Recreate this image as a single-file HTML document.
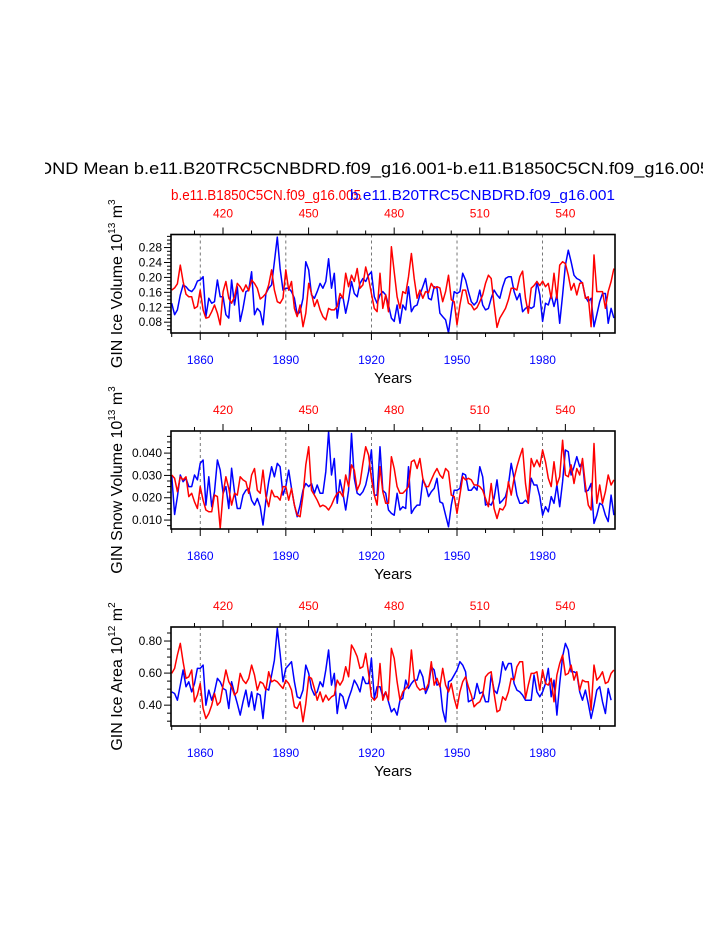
<!DOCTYPE html>
<html><head><meta charset="utf-8"><style>
html,body{margin:0;padding:0;background:#fff;}
svg{display:block;font-family:"Liberation Sans",Arial,sans-serif;}
</style></head><body>
<svg id="chart" width="723" height="935" viewBox="0 0 723 935" xmlns="http://www.w3.org/2000/svg">
<defs><clipPath id="tclip"><rect x="45" y="140" width="658" height="40"/></clipPath></defs>
<g clip-path="url(#tclip)"><text x="38" y="174" font-size="17" textLength="672" lengthAdjust="spacingAndGlyphs">OND Mean b.e11.B20TRC5CNBDRD.f09_g16.001-b.e11.B1850C5CN.f09_g16.005</text></g>
<text x="171" y="200" font-size="15" fill="#ff0000" textLength="190" lengthAdjust="spacingAndGlyphs">b.e11.B1850C5CN.f09_g16.005</text>
<text x="615" y="200" font-size="15" fill="#0000ff" text-anchor="end" textLength="265" lengthAdjust="spacingAndGlyphs">b.e11.B20TRC5CNBDRD.f09_g16.001</text>
<g id="plots"></g>
</svg>
<script>
const startYear = 1850;
const bottomTicks = [1860, 1890, 1920, 1950, 1980];
const topTicks = [420, 450, 480, 510, 540];

const iceVolBlue = [0.131,0.10,0.113,0.153,0.18,0.175,0.166,0.162,0.171,0.19,0.193,0.202,0.095,0.144,0.131,0.135,0.193,0.148,0.148,0.10,0.091,0.193,0.126,0.175,0.082,0.117,0.162,0.166,0.215,0.10,0.117,0.108,0.073,0.157,0.171,0.18,0.242,0.308,0.224,0.166,0.171,0.171,0.162,0.144,0.10,0.108,0.144,0.242,0.22,0.153,0.144,0.162,0.184,0.171,0.189,0.25,0.171,0.211,0.091,0.144,0.148,0.104,0.14,0.189,0.157,0.148,0.184,0.197,0.189,0.206,0.215,0.148,0.131,0.153,0.162,0.153,0.126,0.091,
0.082,0.126,0.077,0.126,0.113,0.175,0.108,0.122,0.126,0.153,0.175,0.197,0.144,0.14,0.175,0.171,0.104,0.095,0.086,0.051,0.108,0.162,0.157,0.162,0.211,0.193,0.162,0.135,0.126,0.135,0.166,0.126,0.113,0.117,0.144,0.166,0.153,0.144,0.175,0.197,0.202,0.202,0.162,0.14,0.157,0.108,0.117,0.122,0.117,0.122,0.189,0.153,0.082,0.131,0.126,0.153,0.122,0.153,0.077,0.153,0.233,0.273,0.242,0.206,0.197,0.193,0.184,0.148,0.135,0.144,0.068,0.10,0.135,0.157,0.157,0.077,0.117,0.091];
const iceVolRed = [0.166,0.172,0.183,0.233,0.189,0.155,0.148,0.148,0.117,0.122,0.166,0.113,0.091,0.093,0.108,0.126,0.104,0.073,0.162,0.189,0.144,0.131,0.148,0.184,0.175,0.162,0.18,0.164,0.193,0.184,0.171,0.142,0.148,0.157,0.18,0.22,0.166,0.135,0.131,0.144,0.22,0.166,0.189,0.117,0.095,0.126,0.068,0.104,0.184,0.157,0.122,0.14,0.113,0.095,0.086,0.117,0.113,0.113,0.122,0.157,0.144,0.211,0.175,0.206,0.189,0.224,0.171,0.18,0.228,0.197,0.157,0.117,0.108,0.211,0.117,0.153,0.108,0.282,
0.215,0.148,0.117,0.162,0.157,0.202,0.264,0.197,0.144,0.166,0.144,0.162,0.159,0.184,0.171,0.175,0.172,0.135,0.162,0.206,0.14,0.135,0.073,0.126,0.166,0.166,0.131,0.126,0.113,0.119,0.135,0.153,0.184,0.206,0.197,0.126,0.066,0.091,0.104,0.117,0.14,0.171,0.171,0.166,0.202,0.217,0.144,0.104,0.171,0.178,0.189,0.178,0.19,0.175,0.184,0.144,0.211,0.144,0.233,0.242,0.237,0.206,0.166,0.184,0.153,0.184,0.186,0.144,0.148,0.068,0.26,0.162,0.162,0.162,0.117,0.162,0.189,0.224];

const snowBlue = [0.0302,0.0125,0.0205,0.0302,0.0272,0.0287,0.025,0.025,0.0302,0.028,0.0354,0.0369,0.0167,0.0294,0.016,0.0227,0.0369,0.0324,0.022,0.025,0.0152,0.0332,0.0227,0.0152,0.0152,0.0212,0.0234,0.0242,0.0189,0.0167,0.0197,0.016,0.0078,0.0189,0.0272,0.0339,0.0294,0.0354,0.0339,0.0212,0.025,0.0324,0.0242,0.0167,0.0115,0.0167,0.0234,0.0264,0.025,0.0264,0.022,0.0257,0.022,0.022,0.0317,0.0496,0.0302,0.0376,0.0175,0.028,0.022,0.0145,0.0234,0.0488,0.0287,0.022,0.0212,0.0227,0.0257,0.0317,0.0414,0.0212,0.0212,0.0428,0.0234,0.022,0.0145,0.013,
0.0122,0.022,0.0145,0.016,0.0152,0.0339,0.013,0.0152,0.0167,0.0167,0.028,0.0257,0.0205,0.0227,0.0242,0.0287,0.0182,0.0175,0.0122,0.0070,0.0167,0.0234,0.0234,0.0242,0.0309,0.0302,0.0234,0.0234,0.025,0.0234,0.0339,0.0294,0.0167,0.0175,0.0167,0.0197,0.028,0.0175,0.0189,0.0205,0.0257,0.0354,0.0287,0.0212,0.0175,0.0175,0.0189,0.0175,0.0287,0.0257,0.0257,0.0205,0.0122,0.016,0.0137,0.0205,0.0175,0.0257,0.016,0.0272,0.0414,0.0406,0.0302,0.0339,0.0384,0.0339,0.0361,0.0227,0.0234,0.0264,0.0085,0.0122,0.0175,0.0167,0.0122,0.0093,0.0212,0.0122];
const snowRed = [0.0302,0.0287,0.0227,0.0294,0.028,0.0294,0.0205,0.022,0.0182,0.0152,0.025,0.0189,0.0145,0.0137,0.0137,0.0212,0.0205,0.0063,0.022,0.0294,0.0242,0.0167,0.022,0.0212,0.0294,0.028,0.0272,0.022,0.0302,0.0331,0.0234,0.022,0.0324,0.0205,0.016,0.0234,0.0205,0.0205,0.0189,0.025,0.025,0.0189,0.0242,0.0167,0.0122,0.0115,0.0212,0.0347,0.0428,0.0234,0.0212,0.0189,0.016,0.0167,0.016,0.0145,0.0167,0.0197,0.022,0.0227,0.0205,0.0302,0.025,0.0347,0.0324,0.0234,0.0264,0.0354,0.0428,0.0391,0.0287,0.0212,0.0167,0.0339,0.0227,0.0175,0.0175,0.0384,
0.0331,0.025,0.022,0.022,0.0234,0.025,0.0361,0.0369,0.0331,0.0376,0.0287,0.025,0.025,0.028,0.0309,0.0331,0.0302,0.0287,0.0331,0.0317,0.0212,0.0205,0.013,0.0212,0.0294,0.028,0.0287,0.028,0.0257,0.0257,0.025,0.0234,0.0197,0.016,0.0264,0.0152,0.0107,0.0152,0.0145,0.0167,0.0272,0.0212,0.0287,0.0339,0.0384,0.0421,0.0264,0.0175,0.0376,0.0339,0.0369,0.0339,0.0414,0.0361,0.0287,0.025,0.0361,0.0257,0.0294,0.0458,0.0302,0.0294,0.0347,0.0264,0.0331,0.0302,0.0376,0.0257,0.0167,0.0145,0.0443,0.0175,0.0257,0.0175,0.0227,0.0302,0.0257,0.028];

const areaBlue = [0.483,0.473,0.431,0.525,0.619,0.515,0.546,0.483,0.535,0.629,0.629,0.65,0.4,0.494,0.431,0.483,0.567,0.546,0.504,0.494,0.379,0.546,0.473,0.41,0.338,0.421,0.494,0.39,0.483,0.369,0.473,0.463,0.317,0.504,0.494,0.588,0.681,0.879,0.723,0.546,0.629,0.65,0.671,0.546,0.452,0.442,0.494,0.65,0.598,0.504,0.463,0.483,0.546,0.515,0.619,0.744,0.525,0.598,0.348,0.473,0.452,0.379,0.442,0.494,0.556,0.525,0.483,0.577,0.535,0.535,0.692,0.442,0.515,0.515,0.452,0.483,0.421,0.358,
0.379,0.338,0.431,0.442,0.556,0.504,0.535,0.556,0.556,0.619,0.577,0.473,0.515,0.64,0.619,0.525,0.535,0.369,0.296,0.546,0.556,0.588,0.619,0.671,0.65,0.608,0.421,0.431,0.442,0.535,0.473,0.483,0.421,0.421,0.588,0.494,0.473,0.546,0.671,0.619,0.66,0.66,0.535,0.494,0.483,0.463,0.431,0.431,0.431,0.588,0.483,0.452,0.483,0.535,0.629,0.452,0.556,0.338,0.535,0.702,0.785,0.744,0.608,0.608,0.598,0.483,0.431,0.494,0.41,0.317,0.4,0.494,0.515,0.421,0.348,0.504,0.431];
const areaRed = [0.598,0.629,0.713,0.785,0.671,0.567,0.577,0.619,0.421,0.463,0.535,0.379,0.317,0.348,0.4,0.473,0.4,0.421,0.525,0.619,0.546,0.515,0.463,0.483,0.598,0.556,0.535,0.567,0.65,0.588,0.494,0.546,0.535,0.494,0.608,0.546,0.556,0.546,0.525,0.504,0.556,0.535,0.494,0.39,0.379,0.421,0.296,0.41,0.577,0.567,0.504,0.431,0.483,0.421,0.463,0.431,0.452,0.463,0.556,0.525,0.556,0.64,0.577,0.775,0.744,0.702,0.629,0.64,0.723,0.598,0.452,0.431,0.452,0.66,0.431,0.483,0.431,0.754,
0.692,0.546,0.431,0.483,0.504,0.525,0.744,0.567,0.515,0.494,0.504,0.494,0.535,0.671,0.525,0.567,0.515,0.629,0.525,0.483,0.535,0.442,0.379,0.483,0.546,0.577,0.515,0.463,0.39,0.41,0.421,0.463,0.577,0.598,0.608,0.473,0.358,0.369,0.452,0.431,0.483,0.567,0.556,0.64,0.671,0.671,0.442,0.525,0.598,0.598,0.608,0.494,0.619,0.535,0.525,0.567,0.421,0.588,0.66,0.713,0.588,0.598,0.65,0.556,0.608,0.494,0.556,0.546,0.546,0.369,0.65,0.556,0.577,0.608,0.535,0.546,0.598,0.619];

const panels = [
 {name:'ice-volume', top:234.5, bot:333, ymin:0.051, ymax:0.315, major:[0.08,0.12,0.16,0.20,0.24,0.28], fmt:2, minorStep:0.01, blue:iceVolBlue, red:iceVolRed, label:'GIN Ice Volume 10', sup1:'13', unit:' m', sup2:'3'},
 {name:'snow-volume', top:431, bot:529, ymin:0.006, ymax:0.0499, major:[0.010,0.020,0.030,0.040], fmt:3, minorStep:0.0025, blue:snowBlue, red:snowRed, label:'GIN Snow Volume 10', sup1:'13', unit:' m', sup2:'3'},
 {name:'ice-area', top:627, bot:726, ymin:0.27, ymax:0.8875, major:[0.40,0.60,0.80], fmt:2, minorStep:0.05, blue:areaBlue, red:areaRed, label:'GIN Ice Area 10', sup1:'12', unit:' m', sup2:'2'}
];
const X0 = 171, X1 = 615;
const xOf = yr => X0 + (yr - 1849.75) * 2.853;
const xTop = t => 223 + (t - 420) * 2.853;
const NS = 'http://www.w3.org/2000/svg';
const root = document.getElementById('plots');
function mk(tag, attrs, parent){const e=document.createElementNS(NS,tag);for(const k in attrs)e.setAttribute(k,attrs[k]);(parent||root).appendChild(e);return e;}

panels.forEach(p=>{
  const g = mk('g',{});
  
  
  const yOf = v => p.bot - (v - p.ymin)/(p.ymax - p.ymin)*(p.bot - p.top);
  bottomTicks.forEach(yr=>{
    const l = mk('line',{x1:xOf(yr),x2:xOf(yr),y1:p.top,y2:p.bot,stroke:'#555','stroke-width':0.8,'stroke-dasharray':'3,3'},g);
    
    
  });
  [['blue','#0000ff',p.blue],['red','#ff0000',p.red]].forEach(([nm,col,arr])=>{
    const d = arr.map((v,i)=>(i?'L':'M')+xOf(startYear+i).toFixed(1)+','+yOf(v).toFixed(1)).join(' ');
    const path = mk('path',{d:d,fill:'none',stroke:col,'stroke-width':1.5,'stroke-linejoin':'round'},g);
    
    
  });
  const box = mk('rect',{x:X0,y:p.top,width:X1-X0,height:p.bot-p.top,fill:'none',stroke:'#000','stroke-width':1.6},g);
  
  
  for(let yr=1850; yr<=2005; yr+=10){
    const maj = bottomTicks.includes(yr);
    mk('line',{x1:xOf(yr),x2:xOf(yr),y1:p.bot,y2:p.bot+(maj?7:4),stroke:'#000','stroke-width':1},g);
  }
  bottomTicks.forEach(yr=>{
    const t = mk('text',{x:xOf(yr),y:p.bot+31,'font-size':12,fill:'#0000ff','text-anchor':'middle'},g);
    t.textContent = yr;
    
    
  });
  for(let t=410; t<=560; t+=10){
    const x = xTop(t); if(x<X0||x>X1) continue;
    const maj = topTicks.includes(t);
    mk('line',{x1:x,x2:x,y1:p.top,y2:p.top-(maj?7:4),stroke:'#000','stroke-width':1},g);
  }
  topTicks.forEach(t=>{
    const e = mk('text',{x:xTop(t),y:p.top-17,'font-size':12,fill:'#ff0000','text-anchor':'middle'},g);
    e.textContent = t;
    
    
  });
  const n = Math.round((p.ymax-p.ymin)/p.minorStep)+2;
  const s0 = Math.ceil(p.ymin/p.minorStep-1e-6);
  for(let k=s0;k<s0+n;k++){
    const v=k*p.minorStep; if(v>p.ymax) break;
    const maj = p.major.some(m=>Math.abs(m-v)<1e-9);
    mk('line',{x1:X0,x2:X0-(maj?7:4),y1:yOf(v),y2:yOf(v),stroke:'#000','stroke-width':1},g);
  }
  p.major.forEach(v=>{
    const e = mk('text',{x:X0-9,y:yOf(v)+4,'font-size':12,'text-anchor':'end'},g);
    e.textContent = v.toFixed(p.fmt);
    
    
  });
  const cy = (p.top+p.bot)/2;
  const yl = mk('text',{x:0,y:0,'font-size':16,'text-anchor':'middle',transform:'translate(122,'+cy+') rotate(-90)'},g);
  
  
  const a=mk('tspan',{},yl); a.textContent=p.label;
  const b=mk('tspan',{'font-size':10,dy:-7},yl); b.textContent=p.sup1;
  const c=mk('tspan',{dy:7},yl); c.textContent=p.unit;
  const d2=mk('tspan',{'font-size':10,dy:-7},yl); d2.textContent=p.sup2;
  const xt = mk('text',{x:393,y:p.bot+50,'font-size':15,'text-anchor':'middle'},g);
  xt.textContent='Years';
  
  
});
</script>
</body></html>
